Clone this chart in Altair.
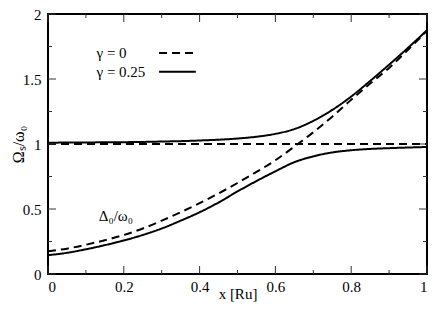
import altair as alt
import pandas as pd

# ---- data ----
x_vals = [0.0, 0.05, 0.1, 0.15, 0.2, 0.25, 0.3, 0.35, 0.4, 0.45, 0.5,
          0.55, 0.6, 0.65, 0.7, 0.75, 0.8, 0.85, 0.9, 0.95, 1.0]
delta_g0 = [0.175, 0.195, 0.225, 0.26, 0.30, 0.35, 0.41, 0.475, 0.545, 0.62, 0.70,
            0.785, 0.875, 0.98, 1.09, 1.21, 1.34, 1.465, 1.585, 1.725, 1.87]
flat_x = [0.0, 1.0]
flat_g0 = [1.0, 1.0]
upper_g025 = [1.010, 1.011, 1.012, 1.013, 1.014, 1.016, 1.019, 1.022, 1.027, 1.033, 1.042,
              1.056, 1.078, 1.115, 1.178, 1.262, 1.365, 1.485, 1.61, 1.74, 1.875]
lower_g025 = [0.145, 0.163, 0.19, 0.222, 0.258, 0.30, 0.35, 0.41, 0.475, 0.55, 0.635,
              0.715, 0.79, 0.86, 0.905, 0.935, 0.952, 0.962, 0.968, 0.973, 0.977]

x_major = [0, 0.2, 0.4, 0.6, 0.8, 1.0]
x_minor = [0.1, 0.3, 0.5, 0.7, 0.9]
y_major = [0, 0.5, 1.0, 1.5, 2.0]
y_minor = [0.25, 0.75, 1.25, 1.75]

legend_labels = ["γ = 0", "γ = 0.25"]
legend_text_x = [0.128, 0.128]
legend_y = [1.70, 1.555]
legend_x1 = [0.293, 0.293]
legend_x2 = [0.39, 0.39]
legend_series = ["g0", "g025"]

W, H = 379, 260
FONT = "Liberation Serif, Times New Roman, serif"

rows = []
for i, x in enumerate(x_vals):
    rows.append({"x": x, "y": delta_g0[i], "series": "g0", "branch": "delta"})
    rows.append({"x": x, "y": upper_g025[i], "series": "g025", "branch": "upper"})
    rows.append({"x": x, "y": lower_g025[i], "series": "g025", "branch": "lower"})
for i, x in enumerate(flat_x):
    rows.append({"x": x, "y": flat_g0[i], "series": "g0", "branch": "flat"})
df = pd.DataFrame(rows)

xscale = alt.Scale(domain=[0, 1], nice=False, zero=False)
yscale = alt.Scale(domain=[0, 2], nice=False, zero=False)
dash = alt.StrokeDash("series:N", scale=alt.Scale(domain=["g0", "g025"], range=[[8, 5], [1, 0]]), legend=None)

lines = alt.Chart(df).mark_line(color="black", strokeWidth=2, interpolate="monotone", clip=True).encode(
    x=alt.X("x:Q", scale=xscale,
            axis=alt.Axis(values=x_major, format="~g", ticks=False, domain=False, grid=False,
                          labelFont=FONT, labelFontSize=15, labelColor="black", labelPadding=5,
                          title="x [Ru]", titleFont=FONT, titleFontSize=15, titleFontWeight="normal",
                          titleColor="black", titleY=24, titleBaseline="alphabetic")),
    y=alt.Y("y:Q", scale=yscale,
            axis=alt.Axis(values=y_major, format="~g", ticks=False, domain=False, grid=False,
                          labelFont=FONT, labelFontSize=15, labelColor="black", labelPadding=7,
                          title="Ωₛ/ω₀", titleFont=FONT, titleFontSize=16, titleFontWeight="normal",
                          titleColor="black", titleX=-30, titleY=H / 2, titleBaseline="middle",
                          titleAngle=270)),
    strokeDash=dash,
    detail="branch:N",
)

def tick_layers(vals, axis, length):
    d = pd.DataFrame({"v": vals})
    base = alt.Chart(d).mark_rule(color="#333333", strokeWidth=1)
    if axis == "x":
        bot = base.encode(x=alt.X("v:Q", scale=xscale), y=alt.value(H), y2=alt.value(H - length))
        top = base.encode(x=alt.X("v:Q", scale=xscale), y=alt.value(0), y2=alt.value(length))
        return [bot, top]
    left = base.encode(y=alt.Y("v:Q", scale=yscale), x=alt.value(0), x2=alt.value(length))
    right = base.encode(y=alt.Y("v:Q", scale=yscale), x=alt.value(W), x2=alt.value(W - length))
    return [left, right]

ticks = (tick_layers(x_major, "x", 8) + tick_layers(x_minor, "x", 4)
         + tick_layers(y_major, "y", 8) + tick_layers(y_minor, "y", 4))

leg_df = pd.DataFrame({"label": legend_labels, "tx": legend_text_x, "y": legend_y,
                       "x1": legend_x1, "x2": legend_x2, "series": legend_series})
leg_text = alt.Chart(leg_df).mark_text(align="left", baseline="middle", font=FONT, fontSize=15,
                                       color="black").encode(
    x=alt.X("tx:Q", scale=xscale), y=alt.Y("y:Q", scale=yscale), text="label:N")
leg_lines = alt.Chart(leg_df).mark_rule(color="black", strokeWidth=2).encode(
    x=alt.X("x1:Q", scale=xscale), x2="x2:Q", y=alt.Y("y:Q", scale=yscale), strokeDash=dash)

ann_df = pd.DataFrame({"label": ["Δ₀/ω₀"], "x": [0.134], "y": [0.45]})
ann = alt.Chart(ann_df).mark_text(align="left", baseline="middle", font=FONT, fontSize=15,
                                  color="black").encode(
    x=alt.X("x:Q", scale=xscale), y=alt.Y("y:Q", scale=yscale), text="label:N")

chart = alt.layer(lines, *ticks, leg_lines, leg_text, ann).properties(
    width=W, height=H,
    autosize=alt.AutoSizeParams(type="none"),
    padding={"left": 40, "top": 6, "right": 1, "bottom": 28},
).configure_view(stroke="black", strokeWidth=2)

chart.save("out.html", embed_options={"renderer": "svg", "actions": False})
